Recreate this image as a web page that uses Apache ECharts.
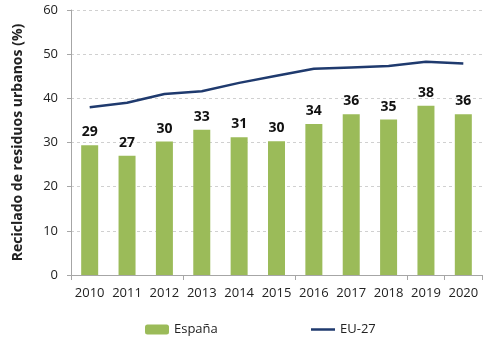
<!DOCTYPE html>
<html>
<head>
<meta charset="utf-8">
<script src="https://cdn.jsdelivr.net/npm/echarts@6/dist/echarts.min.js"></script>
<style>
  html, body { margin: 0; padding: 0; background: #fff; }
  #chart { width: 485px; height: 342px; }
</style>
</head>
<body>
<div id="chart"></div>
<script>
// Años del periodo
const years = ['2010', '2011', '2012', '2013', '2014', '2015', '2016', '2017', '2018', '2019', '2020'];
// Tasa de reciclado de residuos urbanos en España (%)
const espana = [29.4, 27.0, 30.2, 32.9, 31.2, 30.3, 34.2, 36.4, 35.2, 38.3, 36.4];
// Media de la UE-27 (%)
const eu27 = [38.0, 39.0, 41.0, 41.6, 43.5, 45.1, 46.7, 47.0, 47.3, 48.3, 47.9];
// Escala del eje vertical
const yMin = 0, yMax = 60, yStep = 10;

const font = '"Open Sans", "Liberation Sans", sans-serif';
const green = '#9BBB59';
const navy = '#1F3A6E';

const chart = echarts.init(document.getElementById('chart'), null, { renderer: 'canvas' });
chart.setOption({
  animation: false,
  textStyle: { fontFamily: font },
  grid: { left: 71, right: 3, top: 10, bottom: 67 },
  legend: [
    {
      data: ['España'],
      left: 140, top: 318,
      itemWidth: 24, itemHeight: 10, itemGap: 4,
      textStyle: { fontFamily: font, fontSize: 13, color: '#222' }
    },
    {
      data: [{ name: 'EU-27', icon: 'path://M0,0 L24,0 L24,2.5 L0,2.5 Z' }],
      left: 306, top: 318,
      itemWidth: 24, itemHeight: 10, itemGap: 4,
      textStyle: { fontFamily: font, fontSize: 13, color: '#222' }
    }
  ],
  xAxis: {
    type: 'category',
    data: years,
    boundaryGap: true,
    axisLine: { lineStyle: { color: '#A6A6A6', width: 1 } },
    axisTick: { show: true, interval: 2, length: 5, lineStyle: { color: '#A6A6A6' } },
    axisLabel: { interval: 0, margin: 12, fontFamily: font, fontSize: 13, color: '#222' }
  },
  yAxis: {
    type: 'value',
    min: yMin, max: yMax, interval: yStep,
    name: 'Reciclado de residuos urbanos (%)',
    nameLocation: 'middle',
    nameGap: 46,
    nameTextStyle: { fontFamily: font, fontSize: 14, fontWeight: 'bold', color: '#222' },
    axisLine: { show: true, lineStyle: { color: '#A6A6A6', width: 1 } },
    axisTick: { show: true, length: 4, lineStyle: { color: '#A6A6A6' } },
    axisLabel: { margin: 13, fontFamily: font, fontSize: 13, color: '#222' },
    splitLine: { show: true, lineStyle: { color: '#D0D0D0', type: [3, 3], width: 1 } }
  },
  series: [
    {
      name: 'España',
      type: 'bar',
      data: espana,
      barWidth: 17,
      itemStyle: { color: green },
      label: {
        show: true,
        position: 'top',
        distance: 6,
        formatter: p => Math.round(p.value),
        fontFamily: font, fontSize: 14, fontWeight: 'bold', color: '#111'
      }
    },
    {
      name: 'EU-27',
      type: 'line',
      data: eu27,
      showSymbol: false,
      symbol: 'none',
      lineStyle: { color: navy, width: 2.5 },
      itemStyle: { color: navy }
    }
  ]
});
</script>
</body>
</html>
